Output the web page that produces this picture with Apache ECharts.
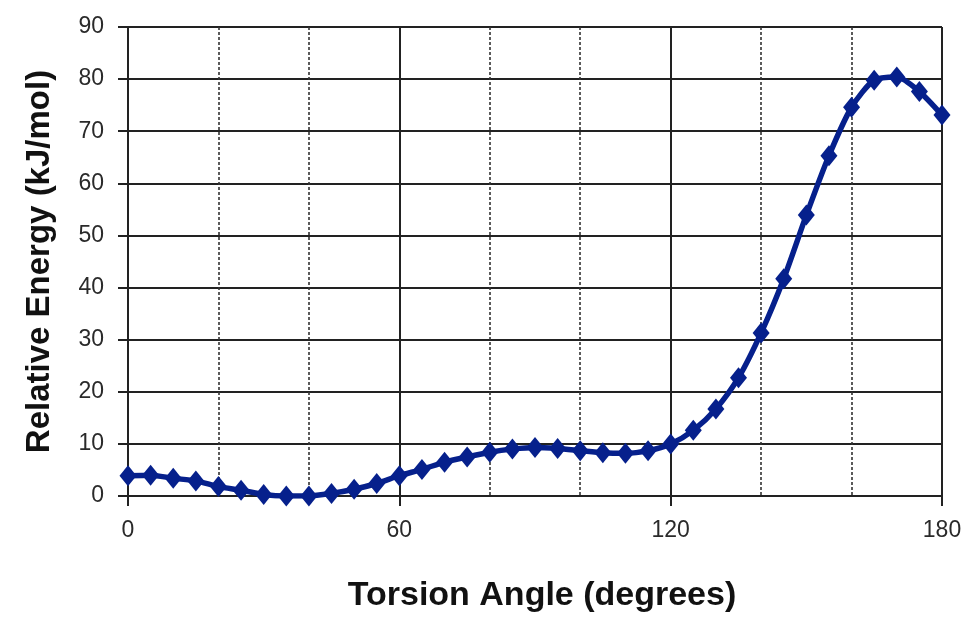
<!DOCTYPE html>
<html>
<head>
<meta charset="utf-8">
<script src="https://cdn.jsdelivr.net/npm/echarts@6/dist/echarts.min.js"></script>
<style>html,body{margin:0;padding:0;background:#fff;}#c{width:971px;height:623px;}</style>
</head>
<body>
<div id="c"></div>
<script>
const angles = [0,5,10,15,20,25,30,35,40,45,50,55,60,65,70,75,80,85,90,95,100,105,110,115,120,125,130,135,140,145,150,155,160,165,170,175,180];
const energy = [3.9,4.0,3.4,2.9,1.8,1.1,0.3,0.0,0.0,0.5,1.3,2.4,3.9,5.1,6.5,7.5,8.4,9.0,9.3,9.1,8.7,8.3,8.2,8.7,10.0,12.6,16.7,22.7,31.3,41.7,53.9,65.3,74.6,79.8,80.4,77.6,73.1];
const xTitle = 'Torsion Angle (degrees)';
const yTitle = 'Relative Energy (kJ/mol)';

const FONT = '"Liberation Sans", Arial, sans-serif';
const chart = echarts.init(document.getElementById('c'), null, {renderer: 'canvas'});
chart.setOption({
  animation: false,
  backgroundColor: '#ffffff',
  grid: {left: 128, right: 29, top: 27, bottom: 127, containLabel: false},
  xAxis: [
    {
      type: 'value', min: 0, max: 180, interval: 20,
      axisLine: {show: false}, axisTick: {show: false}, axisLabel: {show: false},
      splitLine: {show: true, showMinLine: false, showMaxLine: false, lineStyle: {color: '#333', width: 1.6, type: [3, 2]}}
    },
    {
      type: 'value', min: 0, max: 180, interval: 60, position: 'bottom',
      name: xTitle, nameLocation: 'middle', nameGap: 83,
      nameTextStyle: {fontFamily: FONT, fontSize: 34, fontWeight: 'bold', color: '#111', padding: [0, 0, 0, 14]},
      axisLine: {show: true, onZero: false, lineStyle: {color: '#222', width: 2}},
      axisTick: {show: true, length: 10, lineStyle: {color: '#222', width: 2}},
      axisLabel: {fontFamily: FONT, fontSize: 23, color: '#2a2a2a', margin: 23},
      splitLine: {show: true, lineStyle: {color: '#222', width: 2}}
    }
  ],
  yAxis: {
    type: 'value', min: 0, max: 90, interval: 10,
    name: yTitle, nameLocation: 'middle', nameGap: 72,
    nameTextStyle: {fontFamily: FONT, fontSize: 33, fontWeight: 'bold', color: '#111'},
    axisLine: {show: true, lineStyle: {color: '#222', width: 2}},
    axisTick: {show: true, length: 10, lineStyle: {color: '#222', width: 2}},
    axisLabel: {fontFamily: FONT, fontSize: 23, color: '#2a2a2a', margin: 24},
    splitLine: {show: true, lineStyle: {color: '#222', width: 2}}
  },
  series: [{
    type: 'line',
    xAxisIndex: 1,
    data: angles.map((a, i) => [a, energy[i]]),
    smooth: 0.25,
    symbol: 'diamond',
    symbolSize: [17, 21],
    lineStyle: {color: '#06208c', width: 5.5},
    itemStyle: {color: '#06208c'},
    z: 5
  }]
});
</script>
</body>
</html>
